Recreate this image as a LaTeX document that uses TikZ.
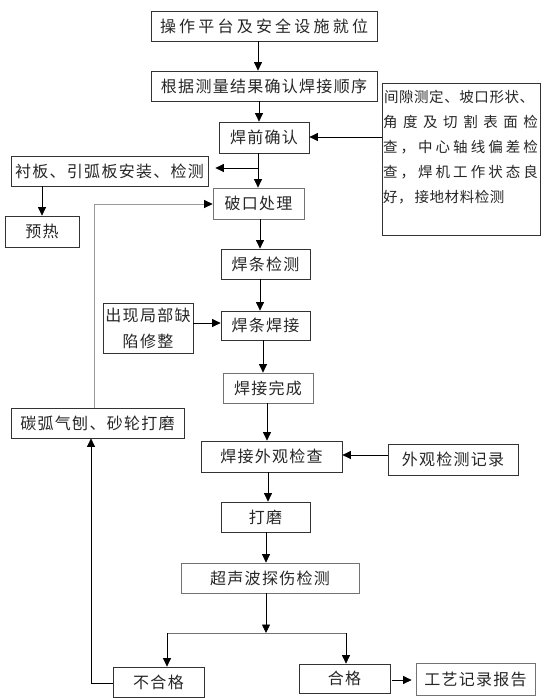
\documentclass[tikz,border=0pt]{standalone}
\usepackage{fontspec}
\usetikzlibrary{arrows.meta,calc}
\newfontfamily\cjk[LetterSpace=8]{Noto Sans CJK SC}
\newfontfamily\cjkwide[LetterSpace=20]{Noto Sans CJK SC}
\newfontfamily\cjksmall[LetterSpace=4]{Noto Sans CJK SC}
\newcommand{\jl}[1]{\makebox[155pt][s]{#1}}
\begin{document}
\begin{tikzpicture}[x=1pt,y=-1pt,
  box/.style={draw=black!80, line width=0.75pt, inner sep=0pt, text=black!85,
    font=\cjk\fontsize{16}{19}\selectfont},
  lbox/.style={box, draw=black!55},
  arr/.style={line width=0.75pt, -{Triangle[length=8.5pt,width=8pt,color=black]}},
  glink/.style={arr, draw=black!40, line width=0.9pt}]
\useasboundingbox (0,0) rectangle (554,698);
% nodes
\node[box, minimum width=226pt, minimum height=30pt, font=\cjkwide\fontsize{16}{19}\selectfont] (b1) at (264,26) {操作平台及安全设施就位};
\node[box, minimum width=226pt, minimum height=30pt] (b2) at (264,86) {根据测量结果确认焊接顺序};
\node[box, minimum width=90pt, minimum height=31pt] (b3) at (264,137.5) {焊前确认};
\node[box, text width=156pt, inner xsep=1pt, minimum height=152pt, align=left,
  font=\cjksmall\fontsize{14.5}{25}\selectfont] (big) at (461,159)
  {\hspace{1pt}间隙测定、坡口形状、\\
   \jl{角\hfill 度\hfill 及\hfill 切\hfill 割\hfill 表\hfill 面\hfill 检}\\
   \jl{查\hfill ，\hfill 中\hfill 心\hfill 轴\hfill 线\hfill 偏\hfill 差\hfill 检}\\
   \jl{查\hfill ，\hfill 焊\hfill 机\hfill 工\hfill 作\hfill 状\hfill 态\hfill 良}\\
   好，\hspace{2pt}接地材料检测\\
   \mbox{}};
\node[box, minimum width=197pt, minimum height=30pt] (chenban) at (109.5,171) {衬板、引弧板安装、检测};
\node[box, minimum width=74pt, minimum height=31pt] (yure) at (42,231.5) {预热};
\node[lbox, minimum width=91pt, minimum height=31pt] (b4) at (258.5,203.5) {破口处理};
\node[box, minimum width=89pt, minimum height=30pt] (b5) at (265.5,264) {焊条检测};
\node[box, minimum width=89pt, minimum height=29pt] (b6) at (265.5,325.5) {焊条焊接};
\node[box, minimum width=90pt, minimum height=50pt, align=center,
  font=\cjk\fontsize{16}{26}\selectfont] (xiuzheng) at (148,328) {出现局部缺\\陷修整};
\node[lbox, minimum width=90pt, minimum height=30pt] (b7) at (268,388) {焊接完成};
\node[box, minimum width=173pt, minimum height=30pt] (tanhu) at (97.5,423) {碳弧气刨、砂轮打磨};
\node[box, minimum width=141pt, minimum height=31pt] (b8) at (271.5,456.5) {焊接外观检查};
\node[box, minimum width=130pt, minimum height=31pt] (waiguan) at (453,459.5) {外观检测记录};
\node[box, minimum width=89pt, minimum height=30pt] (b9) at (265.5,517) {打磨};
\node[lbox, minimum width=178pt, minimum height=30pt] (b10) at (270,578) {超声波探伤检测};
\node[box, minimum width=91pt, minimum height=30pt] (buhege) at (158.5,682) {不合格};
\node[box, minimum width=91pt, minimum height=29pt] (hege) at (344.5,678.5) {合格};
\node[lbox, minimum width=119pt, minimum height=32pt] (report) at (475.5,679) {工艺记录报告};
% guide coordinates
\coordinate (v1) at (258,0);
\coordinate (v2) at (259,0);
\coordinate (v3) at (260,0);
\coordinate (v4) at (263,0);
\coordinate (v5) at (267,0);
\coordinate (v6) at (268,0);
\coordinate (v7) at (266,0);
\coordinate (v8) at (167,0);
\coordinate (v9) at (346,0);
\coordinate (v10) at (91,0);
\coordinate (v11) at (94,0);
\coordinate (v12) at (42,0);
\coordinate (h1) at (0,168);
\coordinate (h2) at (0,633);
\coordinate (h3) at (0,204);
\coordinate (h4) at (0,683);
\coordinate (h5) at (0,137);
\coordinate (h6) at (0,323);
\coordinate (h7) at (0,455);
\coordinate (h8) at (0,680);
% connectors
\draw[arr] (b1.south -| v1) -- (b2.north -| v1);
\draw[arr] (b2.south -| v2) -- (b3.north -| v2);
\draw[arr] (b3.south -| v1) -- (b4.north -| v1);
\draw[arr] (v1 |- h1) -- ([xshift=7pt]chenban.east |- h1);
\draw[arr] (big.west |- h5) -- (b3.east |- h5);
\draw[arr] (chenban.south -| v12) -- (yure.north -| v12);
\draw[arr] (b4.south -| v3) -- (b5.north -| v3);
\draw[arr] (b5.south -| v3) -- (b6.north -| v3);
\draw[arr] (xiuzheng.east |- h6) -- (b6.west |- h6);
\draw[arr] (b6.south -| v4) -- (b7.north -| v4);
\draw[arr] (b7.south -| v5) -- (b8.north -| v5);
\draw[arr] (waiguan.west |- h7) -- (b8.east |- h7);
\draw[arr] (b8.south -| v6) -- (b9.north -| v6);
\draw[arr] (b9.south -| v7) -- (b10.north -| v7);
\draw[arr] (b10.south -| v7) -- (v7 |- h2);
\draw[line width=0.75pt, draw=black!55] (v8 |- h2) -- (v9 |- h2);
\draw[arr] (v8 |- h2) -- (buhege.north -| v8);
\draw[arr] (v9 |- h2) -- (hege.north -| v9);
\draw[arr] ([xshift=2pt]hege.east |- h8) -- ([xshift=-4pt]report.west |- h8);
\draw[arr] (buhege.west |- h4) -- (v10 |- h4) -- (tanhu.south -| v10);
\draw[glink] (tanhu.north -| v11) -- (v11 |- h3) -- (b4.west |- h3);
\end{tikzpicture}
\end{document}
